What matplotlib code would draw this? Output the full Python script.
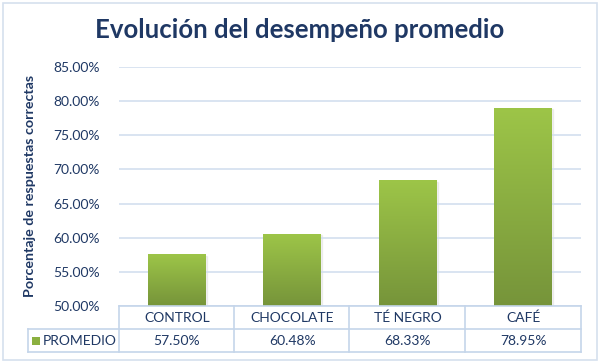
import numpy as np
import matplotlib.pyplot as plt
from matplotlib.lines import Line2D
from matplotlib.patches import Rectangle
from matplotlib.colors import LinearSegmentedColormap
from matplotlib.transforms import blended_transform_factory

categorias = ['CONTROL', 'CHOCOLATE', 'TÉ NEGRO', 'CAFÉ']
promedio = [57.50, 60.48, 68.33, 78.95]
etiquetas = ['57.50%', '60.48%', '68.33%', '78.95%']
yticks = [50, 55, 60, 65, 70, 75, 80, 85]

navy = '#1F3864'
borde = '#C5D5EA'
plt.rcParams['font.family'] = ['Lato', 'DejaVu Sans']

W, H = 600, 363
fig = plt.figure(figsize=(6, 3.63), dpi=100)
fig.patch.set_facecolor('white')

def px(x):
    return x / W

def py(y):
    return 1 - y / H

# marco exterior
fig.add_artist(Rectangle((px(3), py(360)), px(594), 357 / H, transform=fig.transFigure,
                         fill=False, edgecolor='#D6E0EE', lw=1.2))

ax = fig.add_axes([px(119), py(306), (581 - 119) / W, (306 - 67) / H])
x = np.arange(len(categorias))
bars = ax.bar(x, promedio, width=0.5, color='#8BB040', zorder=2)

# degradado en las barras
grad = np.linspace(0, 1, 256).reshape(-1, 1)
cmap = LinearSegmentedColormap.from_list('verde', ['#76943A', '#9DC548'])
for b in bars:
    x0, w, h = b.get_x(), b.get_width(), b.get_height()
    ax.add_patch(Rectangle((x0 + 0.01, 50), w, h - 50 - 0.15, color='#000000',
                           alpha=0.05, zorder=1.5))
    ax.imshow(grad, extent=[x0, x0 + w, 50, h], origin='lower', cmap=cmap,
              aspect='auto', zorder=3)

ax.set_xlim(-0.5, len(categorias) - 0.5)
ax.set_ylim(50, 85)
ax.set_yticks(yticks)
ax.set_yticklabels([f'{v:.2f}%' for v in yticks], color=navy, fontsize=10)
ax.set_xticks([])
ax.tick_params(axis='y', length=0, pad=14)
ax.grid(axis='y', color='#D3DFEF', lw=1.2, zorder=0)
for s in ax.spines.values():
    s.set_visible(False)

fig.text(px(300), py(30), 'Evolución del desempeño promedio', ha='center', va='center',
         fontsize=18.5, fontweight='bold', color=navy)
fig.text(px(30), py(186), 'Porcentaje de respuestas correctas', ha='center', va='center',
         rotation=90, fontsize=10.3, fontweight='bold', color=navy)

# tabla de datos
def linea(x1, y1, x2, y2):
    fig.add_artist(Line2D([px(x1), px(x2)], [py(y1), py(y2)], transform=fig.transFigure,
                          color=borde, lw=1.2))

linea(119, 306, 581, 306)
linea(28, 329, 581, 329)
linea(28, 352, 581, 352)
linea(28, 329, 28, 352)
for xv in [119, 234, 349, 465, 581]:
    linea(xv, 306, xv, 352)

tr = blended_transform_factory(ax.transData, fig.transFigure)
for i, (c, e) in enumerate(zip(categorias, etiquetas)):
    fig.text(i, py(318), c, transform=tr, ha='center', va='center', fontsize=10, color=navy)
    fig.text(i, py(341), e, transform=tr, ha='center', va='center', fontsize=10, color=navy)

fig.add_artist(Rectangle((px(32), py(345)), px(8), 8 / H, transform=fig.transFigure,
                         facecolor='#8BB040', edgecolor='none'))
fig.text(px(43), py(341), 'PROMEDIO', ha='left', va='center', fontsize=10, color=navy)

fig.savefig('out.png', dpi=100)
